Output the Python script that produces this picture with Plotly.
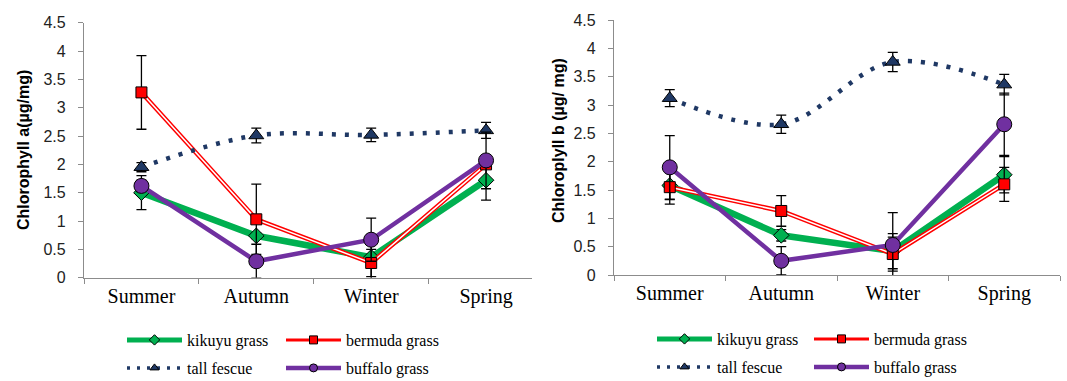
import plotly.graph_objects as go

seasons = ["Summer", "Autumn", "Winter", "Spring"]

# Chlorophyll a (left panel)
a_kikuyu = [1.50, 0.74, 0.36, 1.72]
a_kikuyu_err = [0.30, 0.05, 0.40, 0.35]
a_bermuda = [3.27, 1.03, 0.26, 2.00]
a_bermuda_err = [0.65, 0.62, 0.24, 0.05]
a_fescue = [1.95, 2.51, 2.52, 2.60]
a_fescue_err = [0.08, 0.13, 0.12, 0.14]
a_buffalo = [1.62, 0.29, 0.67, 2.07]
a_buffalo_err = [0.10, 0.30, 0.38, 0.50]

# Chlorophyll b (right panel)
b_kikuyu = [1.58, 0.70, 0.42, 1.77]
b_kikuyu_err = [0.25, 0.10, 0.31, 0.32]
b_bermuda = [1.55, 1.13, 0.37, 1.60]
b_bermuda_err = [0.30, 0.27, 0.30, 0.30]
b_fescue = [3.12, 2.66, 3.76, 3.36]
b_fescue_err = [0.15, 0.16, 0.17, 0.18]
b_buffalo = [1.90, 0.25, 0.53, 2.66]
b_buffalo_err = [0.56, 0.25, 0.57, 0.55]

names = ["kikuyu grass", "bermuda grass", "tall fescue", "buffalo grass"]
GREEN = "#00B050"
RED = "#FF0000"
NAVY = "#1F3864"
PURPLE = "#7030A0"

fig = go.Figure()


def err(vals):
    return dict(type="data", array=vals, visible=True, color="black",
                thickness=1.3, width=5)


def legend_entry(name, line, symbol, color, leg, xa, ya):
    # legend-only key (no data points), with a small marker like the original
    fig.add_trace(go.Scatter(
        x=[None], y=[None], name=name, mode="lines+markers", line=line,
        marker=dict(symbol=symbol, size=8, color=color,
                    line=dict(color="black", width=1)),
        xaxis=xa, yaxis=ya, legend=leg, showlegend=True, hoverinfo="skip"))


def add_panel(xa, ya, kik, kik_e, ber, ber_e, fes, fes_e, buf, buf_e, legs):
    # kikuyu
    fig.add_trace(go.Scatter(
        x=seasons, y=kik, name=names[0], mode="lines+markers",
        line=dict(color=GREEN, width=6.5),
        marker=dict(symbol="diamond", size=12, color=GREEN,
                    line=dict(color="black", width=1)),
        error_y=err(kik_e), xaxis=xa, yaxis=ya, showlegend=False))
    # bermuda (double line: red outer, white inner)
    fig.add_trace(go.Scatter(
        x=seasons, y=ber, name=names[1], mode="lines",
        line=dict(color=RED, width=4.5), showlegend=False,
        xaxis=xa, yaxis=ya))
    fig.add_trace(go.Scatter(
        x=seasons, y=ber, mode="lines", showlegend=False, hoverinfo="skip",
        line=dict(color="white", width=1.5), xaxis=xa, yaxis=ya))
    fig.add_trace(go.Scatter(
        x=seasons, y=ber, name=names[1], mode="markers", showlegend=False,
        marker=dict(symbol="square", size=11, color=RED,
                    line=dict(color="black", width=1)),
        error_y=err(ber_e), xaxis=xa, yaxis=ya))
    # tall fescue
    fig.add_trace(go.Scatter(
        x=seasons, y=fes, name=names[2], mode="lines+markers",
        line=dict(color=NAVY, width=4.5, dash="4px,9px", shape="spline",
                  smoothing=1),
        marker=dict(symbol="triangle-up", size=13, color=NAVY,
                    line=dict(color="black", width=1)),
        error_y=err(fes_e), xaxis=xa, yaxis=ya, showlegend=False))
    # buffalo
    fig.add_trace(go.Scatter(
        x=seasons, y=buf, name=names[3], mode="lines+markers",
        line=dict(color=PURPLE, width=4.5),
        marker=dict(symbol="circle", size=15, color=PURPLE,
                    line=dict(color="black", width=1)),
        error_y=err(buf_e), xaxis=xa, yaxis=ya, showlegend=False))

    legend_entry(names[0], dict(color=GREEN, width=5), "diamond", GREEN,
                 legs[0], xa, ya)
    legend_entry(names[1], dict(color=RED, width=3), "square", RED,
                 legs[1], xa, ya)
    legend_entry(names[2], dict(color=NAVY, width=3.5, dash="3px,7px"),
                 "triangle-up", NAVY, legs[2], xa, ya)
    legend_entry(names[3], dict(color=PURPLE, width=4.5), "circle", PURPLE,
                 legs[3], xa, ya)


add_panel("x", "y", a_kikuyu, a_kikuyu_err, a_bermuda, a_bermuda_err,
          a_fescue, a_fescue_err, a_buffalo, a_buffalo_err,
          ["legend", "legend2", "legend3", "legend4"])
add_panel("x2", "y2", b_kikuyu, b_kikuyu_err, b_bermuda, b_bermuda_err,
          b_fescue, b_fescue_err, b_buffalo, b_buffalo_err,
          ["legend5", "legend6", "legend7", "legend8"])

W, H = 1067, 381
AXIS_GRAY = "#8C8C8C"
SERIF = "Liberation Serif"
SANS = "Liberation Sans"
ytick_font = dict(family=SANS, size=16, color="#222222")
xtick_font = dict(family=SERIF, size=20, color="black")


def xaxis_cfg(domain, rng, anchor):
    return dict(domain=domain, anchor=anchor, type="category", range=rng,
                showline=True, linecolor=AXIS_GRAY, linewidth=1.2,
                ticks="outside", ticklen=5, tickcolor=AXIS_GRAY,
                tickson="boundaries", showgrid=False, zeroline=False,
                tickfont=xtick_font, fixedrange=True)


def yaxis_cfg(domain, anchor):
    return dict(domain=domain, anchor=anchor, range=[0, 4.5], dtick=0.5,
                showline=True, linecolor=AXIS_GRAY, linewidth=1.2,
                ticks="outside", ticklen=5, tickcolor=AXIS_GRAY,
                showgrid=False, zeroline=False, tickfont=ytick_font,
                ticklabelstandoff=9, fixedrange=True)


def leg(xpx, ypx):
    return dict(x=xpx / W, y=1 - ypx / H, xanchor="left", yanchor="middle",
                bgcolor="rgba(0,0,0,0)", borderwidth=0,
                font=dict(family=SERIF, size=16, color="black"),
                itemwidth=55, itemsizing="trace", tracegroupgap=0)


fig.update_layout(
    width=W, height=H,
    margin=dict(l=0, r=0, t=0, b=0, autoexpand=False),
    font=dict(family=SERIF, size=16, color="black"),
    paper_bgcolor="white", plot_bgcolor="white",
    xaxis=xaxis_cfg([84 / W, 532 / W], [-0.5, 3.4], "y"),
    yaxis=yaxis_cfg([1 - 277.7 / H, 1 - 22.7 / H], "x"),
    xaxis2=xaxis_cfg([614 / W, 1060 / W], [-0.5, 3.5], "y2"),
    yaxis2=yaxis_cfg([1 - 275 / H, 1 - 20 / H], "x2"),
    legend=leg(122, 340), legend2=leg(281, 340),
    legend3=leg(122, 368), legend4=leg(281, 368),
    legend5=leg(652, 339), legend6=leg(809, 339),
    legend7=leg(652, 367), legend8=leg(809, 367),
    annotations=[
        dict(text="<b>Chlorophyll a(µg/mg)</b>", x=23 / W, y=1 - 150 / H,
             xref="paper", yref="paper", textangle=-90, showarrow=False,
             font=dict(family=SANS, size=16, color="black"),
             xanchor="center", yanchor="middle"),
        dict(text="<b>Chloroplyll b (µg/ mg)</b>", x=558 / W, y=1 - 141 / H,
             xref="paper", yref="paper", textangle=-90, showarrow=False,
             font=dict(family=SANS, size=16, color="black"),
             xanchor="center", yanchor="middle"),
    ],
    showlegend=True,
)

fig.write_html("out.html")
